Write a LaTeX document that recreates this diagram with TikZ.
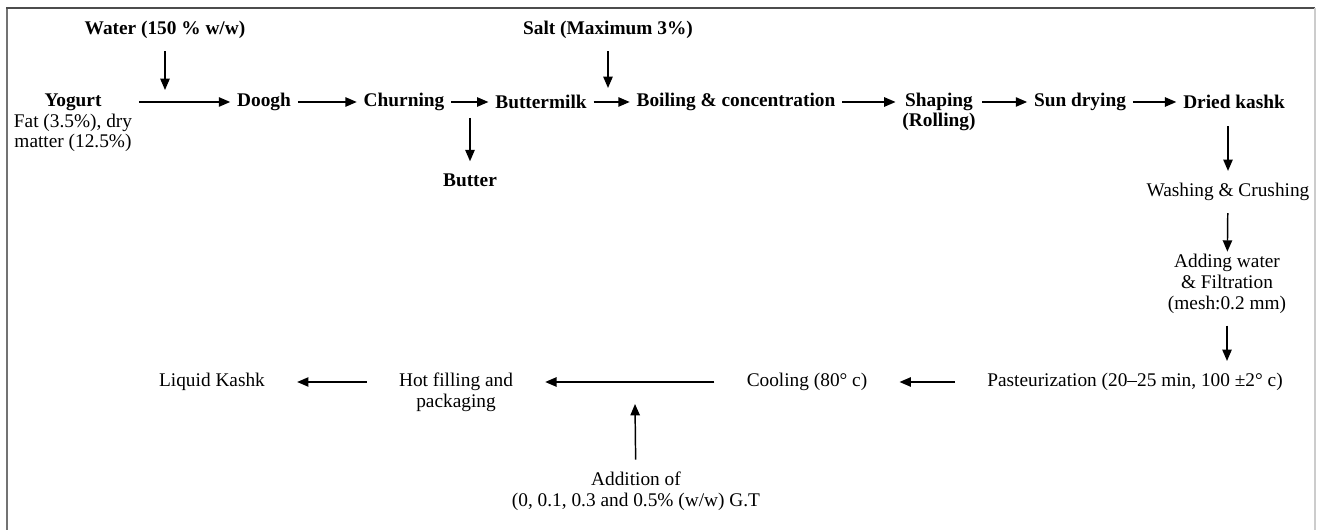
\documentclass[tikz,border=0pt]{standalone}
\usepackage{fontspec}
\setmainfont{Liberation Serif}
\usepackage{tikz}
\usetikzlibrary{arrows.meta,positioning}
\newcommand{\flowsize}{\fontsize{14.5}{15.5}\selectfont}

\begin{document}
\begin{tikzpicture}[
  x=0.75pt,y=-0.75pt,
  stage/.style={align=center,font=\flowsize\bfseries,inner xsep=5pt,inner ysep=9pt},
  plain/.style={align=center,font=\flowsize,inner xsep=5pt,inner ysep=9pt},
  lower/.style={align=center,font=\flowsize,inner xsep=24pt,inner ysep=9pt},
  edge/.style={-{Triangle[length=8.5pt,width=7pt]},line width=1.1pt}]
\useasboundingbox (0,0) rectangle (1320,530);
% frame
\draw[black!55,line width=1.5pt] (6.5,530)--(6.5,8);
\draw[black!70,line width=1.2pt] (6,8)--(1315,8);
\draw[black!20,line width=0.8pt] (1315,8)--(1315,530);
% upper line
\node[stage] (water) at (165,30) {Water (150 \% w/w)};
\node[plain] (yogurt) at (73,123) {\textbf{Yogurt}\\Fat (3.5\%), dry\\matter (12.5\%)};
\node[stage] (doogh) at (264,102) {Doogh};
\node[stage] (churn) at (404,102) {Churning};
\node[stage] (bmilk) at (541,102) {Buttermilk};
\node[stage] (butter) at (470,180) {Butter};
\node[stage] (salt) at (608,30) {Salt (Maximum 3\%)};
\node[stage] (boil) at (736,102) {Boiling \& concentration};
\node[stage] (shape) at (939,112) {Shaping\\(Rolling)};
\node[stage] (sun) at (1080,102) {Sun drying};
\node[stage] (dried) at (1234,102) {Dried kashk};
\coordinate (wmix) at (165,90);
\coordinate (split) at (470,118);
\coordinate (smix) at (608,88);
\draw[edge] (water)--(wmix);
\draw[edge] (yogurt.east |- doogh.west)--(doogh);
\draw[edge] (doogh)--(churn);
\draw[edge] (churn)--(bmilk);
\draw[edge] (split)--(butter);
\draw[edge] (salt)--(smix);
\draw[edge] (bmilk)--(boil);
\draw[edge] (boil)--(shape.west |- boil.east);
\draw[edge] (shape.east |- sun.west)--(sun);
\draw[edge] (sun)--(dried);
% right column
\node[plain] (wash) at (1228,192) {Washing \& Crushing};
\node[plain] (filter) at (1227,284) {Adding water\\\& Filtration\\(mesh:0.2 mm)};
\draw[edge,shorten <=4pt] (dried.south -| wash)--(wash);
\draw[edge,shorten >=-7pt] (wash)--(filter);
% lower line
\node[lower] (pasteur) at (1135,382) {Pasteurization (20--25 min, 100 ±2° c)};
\node[lower] (cool) at (807,382) {Cooling (80° c)};
\node[lower] (hotfill) at (456,392) {Hot filling and\\packaging};
\node[lower] (liquid) at (212,382) {Liquid Kashk};
\node[plain] (addition) at (636,491) {Addition of\\(0, 0.1, 0.3 and 0.5\% (w/w) G.T};
\coordinate (gt) at (635,404);
\draw[edge] (filter)--(filter |- pasteur.north);
\draw[edge] (pasteur)--(cool);
\draw[edge] (cool)--(hotfill.east |- cool.west);
\draw[edge] (hotfill.west |- liquid.east)--(liquid);
\draw[edge] (addition)--(gt);
\end{tikzpicture}
\end{document}
